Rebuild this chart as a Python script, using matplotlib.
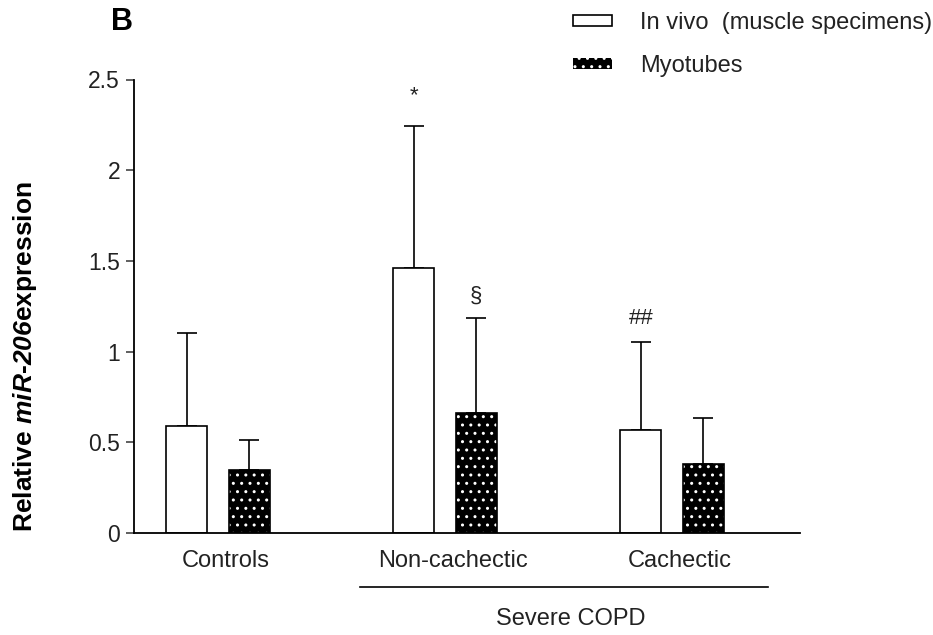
import matplotlib
matplotlib.use("Agg")
import matplotlib.pyplot as plt
import numpy as np
from matplotlib.patches import Patch

plt.rcParams['font.family'] = ['Liberation Sans', 'DejaVu Sans']
plt.rcParams['mathtext.fontset'] = 'custom'
plt.rcParams['mathtext.rm'] = 'Liberation Sans'
plt.rcParams['mathtext.it'] = 'Liberation Sans:italic'
plt.rcParams['mathtext.bf'] = 'Liberation Sans:bold'
plt.rcParams['mathtext.bfit'] = 'Liberation Sans:italic:bold'

# data
groups = ["Controls", "Non-cachectic", "Cachectic"]
invivo_mean = [0.59, 1.46, 0.57]
invivo_sd = [0.51, 0.785, 0.485]
myo_mean = [0.35, 0.66, 0.38]
myo_sd = [0.165, 0.525, 0.255]
marks_invivo = ["", "*", "##"]
marks_myo = ["", "§", ""]

fig = plt.figure(figsize=(9.33, 6.35), dpi=100)
ax = fig.add_axes([134 / 933, 102 / 635, 666 / 933, 453.5 / 635])

x = np.arange(len(groups))
off = 0.137
w = 0.18

# white bars
ax.bar(x - off, invivo_mean, w, color='white', edgecolor='black', linewidth=1.2, zorder=2)
# black dotted bars: hatch first, then outline
ax.bar(x + off, myo_mean, w, color='black', edgecolor='white', hatch='..', linewidth=0, zorder=2)
ax.bar(x + off, myo_mean, w, color='none', edgecolor='black', linewidth=1.2, zorder=3)

# upper error bars only
ax.errorbar(x - off, invivo_mean, yerr=[np.zeros(3), invivo_sd], fmt='none',
            ecolor='black', elinewidth=1.2, capsize=7.5, capthick=1.2, zorder=1)
ax.errorbar(x + off, myo_mean, yerr=[np.zeros(3), myo_sd], fmt='none',
            ecolor='black', elinewidth=1.2, capsize=7.5, capthick=1.2, zorder=1)

# significance marks
for i in range(3):
    top = invivo_mean[i] + invivo_sd[i]
    if marks_invivo[i] == "*":
        ax.text(x[i] - off, top + 0.11, "*", ha='center', va='bottom', fontsize=16, color='#222')
    elif marks_invivo[i]:
        ax.text(x[i] - off, top + 0.13, marks_invivo[i], ha='center', va='center', fontsize=16, color='#222')
    if marks_myo[i]:
        top = myo_mean[i] + myo_sd[i]
        ax.text(x[i] + off, top + 0.12, marks_myo[i], ha='center', va='center', fontsize=16, color='#222')

ax.set_xlim(-0.37, 2.564)
ax.set_ylim(0, 2.5)
ax.set_yticks([0, 0.5, 1, 1.5, 2, 2.5])
ax.set_yticklabels(["0", "0.5", "1", "1.5", "2", "2.5"])
ax.set_xticks(x + 0.035)
ax.set_xticklabels(groups)
ax.tick_params(axis='x', length=0, pad=12, labelsize=17, labelcolor='#222')
ax.tick_params(axis='y', length=6, width=1.2, color='#444', pad=4, labelsize=16.5, labelcolor='#222')

for s in ['top', 'right']:
    ax.spines[s].set_visible(False)
for s in ['left', 'bottom']:
    ax.spines[s].set_linewidth(1.3)

ax.set_ylabel(r'Relative $\mathbfit{miR}$-$\mathbfit{206}$expression', fontsize=19, fontweight='bold')
ax.yaxis.set_label_coords(-0.143, 0.39)

# Severe COPD bracket
ax.plot([0.626, 2.423], [-0.119, -0.119], color='black', lw=1.2,
        transform=ax.get_xaxis_transform(), clip_on=False)
ax.text(1.555, -0.19, "Severe COPD", ha='center', va='center', fontsize=17, color='#222',
        transform=ax.get_xaxis_transform())

fig.text(122 / 933, 1 - 22 / 635, "B", ha='center', va='center', fontsize=22, fontweight='bold')

handles = [Patch(facecolor='white', edgecolor='black', linewidth=1.2),
           Patch(facecolor='black', edgecolor='white', hatch='..', linewidth=0)]
fig.legend(handles, ["In vivo  (muscle specimens)", "Myotubes"], loc='upper left',
           bbox_to_anchor=(573 / 933, 1 - 12 / 635), frameon=False, fontsize=17,
           handlelength=1.65, handleheight=0.38, handletextpad=1.2, labelspacing=0.88,
           borderpad=0, borderaxespad=0, labelcolor='#222')

fig.savefig("out.png", dpi=100)
